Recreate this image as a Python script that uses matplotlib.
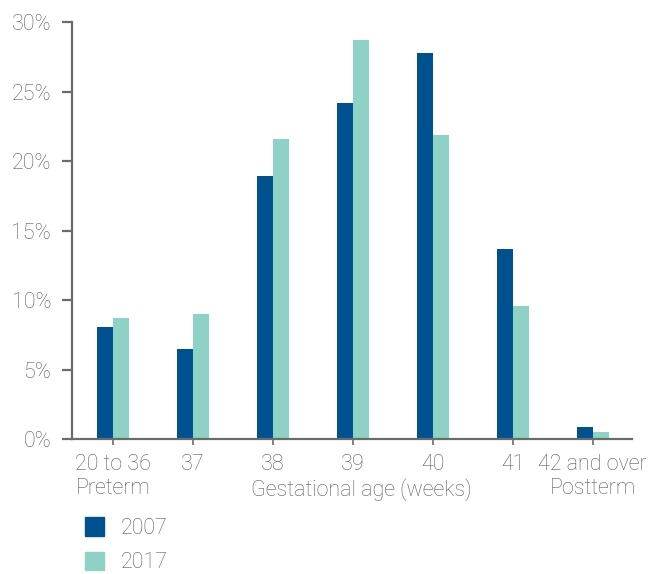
import matplotlib.pyplot as plt
import numpy as np
from matplotlib.patches import Patch

categories = ["20 to 36\nPreterm", "37", "38", "39", "40", "41", "42 and over\nPostterm"]
share_2007 = [8.1, 6.5, 18.9, 24.2, 27.8, 13.7, 0.9]
share_2017 = [8.7, 9.0, 21.6, 28.7, 21.9, 9.6, 0.5]
years = ["2007", "2017"]

dark_blue = "#00528f"
mint = "#8ed2c6"
text_grey = "#5a5a5a"
axis_grey = "#6b6b6b"

plt.rcParams['font.family'] = ['Roboto', 'DejaVu Sans']
plt.rcParams['font.weight'] = 'light'
fs = 15.5


def main():
    fig = plt.figure(figsize=(6.51, 5.74), dpi=100)
    ax = fig.add_axes([0.1106, 0.235, 0.8602, 0.7265])

    x = np.arange(len(categories))
    w = 0.2
    ax.bar(x - w / 2, share_2007, width=w, color=dark_blue, label=years[0])
    ax.bar(x + w / 2, share_2017, width=w, color=mint, label=years[1])

    ax.set_xlim(-0.51, 6.49)
    ax.set_ylim(0, 30)
    ax.set_yticks(range(0, 31, 5))
    ax.set_yticklabels(["{}%".format(v) for v in range(0, 31, 5)])
    ax.set_xticks(x)
    ax.set_xticklabels(categories, linespacing=1.15)

    for side in ["top", "right"]:
        ax.spines[side].set_visible(False)
    for side in ["left", "bottom"]:
        ax.spines[side].set_color(axis_grey)
        ax.spines[side].set_linewidth(1.6)

    ax.tick_params(axis='y', length=7, width=1.6, color=axis_grey,
                   labelsize=fs, labelcolor=text_grey, pad=8)
    ax.tick_params(axis='x', length=4, width=1.2, color=axis_grey,
                   labelsize=fs, labelcolor=text_grey, pad=7)

    # axis title sits on the second line of the tick labels
    ax.text(0.516, -0.12, "Gestational age (weeks)", transform=ax.transAxes,
            ha='center', va='center', fontsize=fs, color=text_grey)

    handles = [Patch(color=dark_blue, label=years[0]),
               Patch(color=mint, label=years[1])]
    leg = fig.legend(handles=handles, loc='upper left',
                     bbox_to_anchor=(0.117, 0.114), frameon=False,
                     fontsize=fs, handlelength=0.9, handleheight=0.95,
                     handletextpad=0.75, labelspacing=0.6, borderaxespad=0)
    for t in leg.get_texts():
        t.set_color(text_grey)

    plt.savefig("out.png", dpi=100)


if __name__ == "__main__":
    main()
